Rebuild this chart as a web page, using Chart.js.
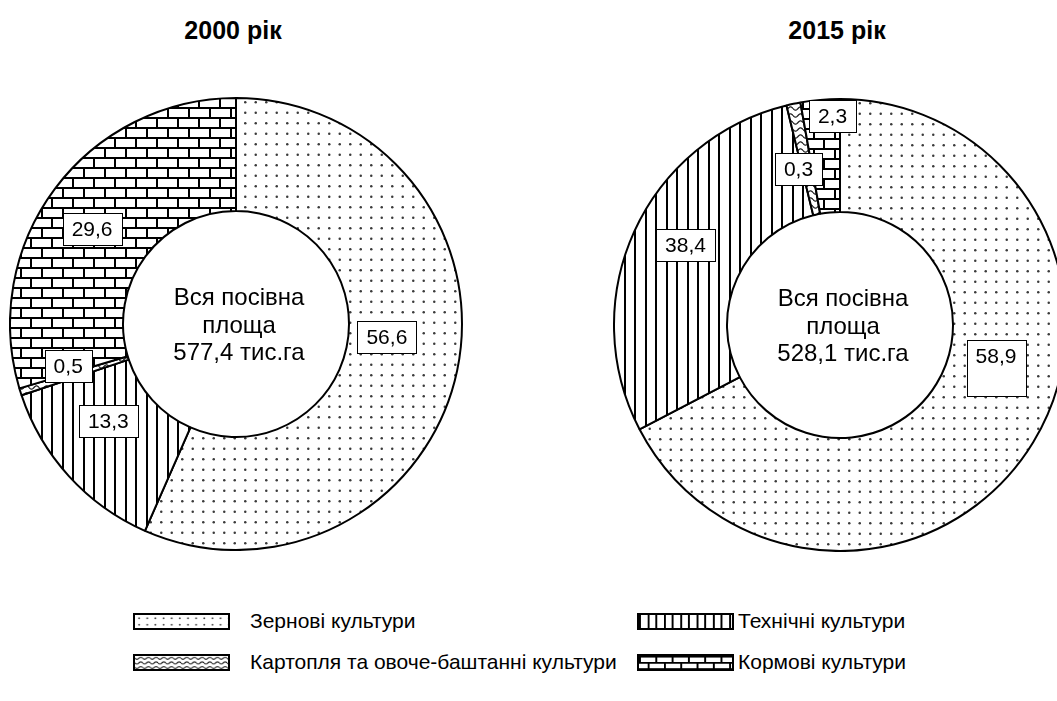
<!DOCTYPE html>
<html>
<head>
<meta charset="utf-8">
<script src="https://cdn.jsdelivr.net/npm/chart.js@4.4.1/dist/chart.umd.min.js"></script>
<style>
  html, body { margin: 0; padding: 0; background: #fff; }
  body { width: 1057px; height: 701px; overflow: hidden; position: relative;
         font-family: "Liberation Sans", Arial, sans-serif; color: #000; }
  canvas.pie { position: absolute; }
  .title { position: absolute; top: 15px; font-weight: bold; font-size: 25px; line-height: 30px;
           transform: translateX(-50%); white-space: nowrap; }
  .legbox { position: absolute; box-sizing: border-box; border: 2px solid #000; }
  .legtxt { position: absolute; font-size: 21px; line-height: 24px; white-space: nowrap; }
</style>
</head>
<body>
<div class="title" style="left:233px" id="t0"></div>
<div class="title" style="left:837px" id="t1"></div>
<canvas class="pie" id="c2000" width="454" height="454" style="left:9px;top:97px"></canvas>
<canvas class="pie" id="c2015" width="454" height="454" style="left:613px;top:98px"></canvas>
<div id="legend"></div>
<script>
// ---------------- data ----------------
const categories = ['Зернові культури', 'Технічні культури', 'Картопля та овоче-баштанні культури', 'Кормові культури'];
const years = ['2000 рік', '2015 рік'];
const totals = ['577,4 тис.га', '528,1 тис.га'];
// 2000: sectors drawn as labelled (%)
const share2000 = [56.6, 13.3, 0.5, 29.6];
const labels2000 = ['56,6', '13,3', '0,5', '29,6'];
// 2015: sector sizes as they are drawn in the picture (the printed labels differ)
const share2015 = [67.3, 28.8, 1.0, 2.8];
const labels2015 = ['58,9', '38,4', '0,3', '2,3'];

// ---------------- layout (label placement relative to each arc) ----------------
const place2000 = [{f: 0.67, da: -7}, {f: 0.71, da: 5}, {f: 0.765, da: 3.5}, {f: 0.763, da: -3.3}];
const place2015 = [{f: 0.704, da: -20, extra: 24}, {f: 0.77, da: 3}, {f: 0.715, da: -3}, {f: 0.925, da: 3}];
const FONT = '"Liberation Sans", Arial, sans-serif';

// ---------------- patterns ----------------
function patternCanvas(kind, s) {
  const c = document.createElement('canvas');
  const g = c.getContext('2d');
  if (kind === 'dots') {
    const t = Math.round(21 * s); c.width = t; c.height = t;
    g.fillStyle = '#fff'; g.fillRect(0, 0, t, t);
    g.fillStyle = '#3a3a3a';
    [[0.25, 0.25], [0.75, 0.25], [0.25, 0.75], [0.75, 0.75]].forEach(([a, b]) => {
      g.beginPath(); g.arc(a * t, b * t, 1.25 * Math.max(s, 0.8), 0, Math.PI * 2); g.fill();
    });
  } else if (kind === 'vlines') {
    const t = Math.round(21 * s); c.width = t; c.height = t;
    g.fillStyle = '#fff'; g.fillRect(0, 0, t, t);
    g.fillStyle = '#000';
    g.fillRect(0, 0, 2, t); g.fillRect(Math.round(t / 2), 0, 2, t);
  } else if (kind === 'bricks') {
    const w = Math.round(21 * s), h = Math.round(20 * s); c.width = w; c.height = h;
    g.fillStyle = '#fff'; g.fillRect(0, 0, w, h);
    g.fillStyle = '#000';
    const hh = h / 2;
    g.fillRect(0, 0, w, 2); g.fillRect(0, hh, w, 2);
    g.fillRect(0, 0, 2, hh); g.fillRect(Math.round(w / 2), hh, 2, hh);
  } else if (kind === 'waves') {
    const w = Math.round(10 * s), h = Math.round(7 * s); c.width = w; c.height = h;
    g.fillStyle = '#fff'; g.fillRect(0, 0, w, h);
    g.strokeStyle = '#222'; g.lineWidth = 1.3;
    g.beginPath();
    for (let x = 0; x <= w; x += 0.5) {
      const y = h / 2 + 1.6 * s * Math.sin(2 * Math.PI * x / w);
      if (x === 0) g.moveTo(x, y); else g.lineTo(x, y);
    }
    g.stroke();
  }
  return c;
}
const kinds = ['dots', 'vlines', 'waves', 'bricks'];
function patterns(ctx, s) {
  return kinds.map(k => ctx.createPattern(patternCanvas(k, s), 'repeat'));
}

// ---------------- plugins ----------------
const labelPlugin = {
  id: 'boxLabels',
  afterDatasetsDraw(chart) {
    const o = chart.options.plugins.boxLabels;
    const ctx = chart.ctx;
    const meta = chart.getDatasetMeta(0);
    ctx.save();
    ctx.font = '21px ' + FONT;
    ctx.textAlign = 'center';
    ctx.textBaseline = 'middle';
    meta.data.forEach((arc, i) => {
      const p = arc.getProps(['x', 'y', 'startAngle', 'endAngle', 'outerRadius'], true);
      const pl = o.place[i];
      const mid = (p.startAngle + p.endAngle) / 2 + pl.da * Math.PI / 180;
      const r = p.outerRadius * pl.f;
      const px = p.x + Math.cos(mid) * r;
      const py = p.y + Math.sin(mid) * r;
      const txt = o.texts[i];
      const w = Math.round(ctx.measureText(txt).width + 18);
      const h = 32;
      const bx = Math.round(px - w / 2) + 0.5, by = Math.round(py - h / 2) + 0.5;
      ctx.fillStyle = '#fff';
      ctx.fillRect(bx, by, w, h + (pl.extra || 0));
      ctx.strokeStyle = '#000'; ctx.lineWidth = 1;
      ctx.strokeRect(bx, by, w, h + (pl.extra || 0));
      ctx.fillStyle = '#000';
      ctx.fillText(txt, px, py + 1);
    });
    ctx.restore();
  },
  afterDraw(chart) {
    const o = chart.options.plugins.boxLabels;
    const arc = chart.getDatasetMeta(0).data[0];
    const ctx = chart.ctx;
    ctx.save();
    ctx.font = '24px ' + FONT;
    ctx.fillStyle = '#000';
    ctx.textAlign = 'center';
    ctx.textBaseline = 'middle';
    const lines = ['Вся посівна', 'площа', o.total];
    lines.forEach((l, i) => ctx.fillText(l, arc.x + 3, arc.y + 2 + (i - 1) * 27.5));
    ctx.restore();
  }
};

function makeChart(id, values, texts, place, total) {
  const el = document.getElementById(id);
  const ctx = el.getContext('2d');
  return new Chart(ctx, {
    type: 'doughnut',
    data: {
      labels: categories,
      datasets: [{
        data: values,
        backgroundColor: patterns(ctx, 1),
        borderColor: '#000',
        borderWidth: 2,
        borderAlign: 'center'
      }]
    },
    options: {
      responsive: false,
      animation: false,
      devicePixelRatio: 1,
      cutout: '50%',
      rotation: 0,
      layout: { padding: 0 },
      plugins: {
        legend: { display: false },
        tooltip: { enabled: false },
        boxLabels: { texts: texts, place: place, total: total }
      }
    },
    plugins: [labelPlugin]
  });
}

document.getElementById('t0').textContent = years[0];
document.getElementById('t1').textContent = years[1];
makeChart('c2000', share2000, labels2000, place2000, totals[0]);
makeChart('c2015', share2015, labels2015, place2015, totals[1]);

// ---------------- legend ----------------
const legPos = [
  {bx: 133, tx: 250, cy: 621},
  {bx: 637, tx: 738, cy: 621},
  {bx: 133, tx: 250, cy: 662},
  {bx: 637, tx: 738, cy: 662}
];
const leg = document.getElementById('legend');
categories.forEach((name, i) => {
  const p = legPos[i];
  const box = document.createElement('canvas');
  box.className = 'legbox';
  box.width = 97; box.height = 17;
  box.style.left = p.bx + 'px';
  box.style.top = (p.cy - 8) + 'px';
  box.style.width = '97px'; box.style.height = '17px';
  const g = box.getContext('2d');
  g.fillStyle = g.createPattern(patternCanvas(kinds[i], 0.8), 'repeat');
  g.fillRect(0, 0, 97, 17);
  leg.appendChild(box);
  const t = document.createElement('div');
  t.className = 'legtxt';
  t.textContent = name;
  t.style.left = p.tx + 'px';
  t.style.top = (p.cy - 12) + 'px';
  leg.appendChild(t);
});
</script>
</body>
</html>
